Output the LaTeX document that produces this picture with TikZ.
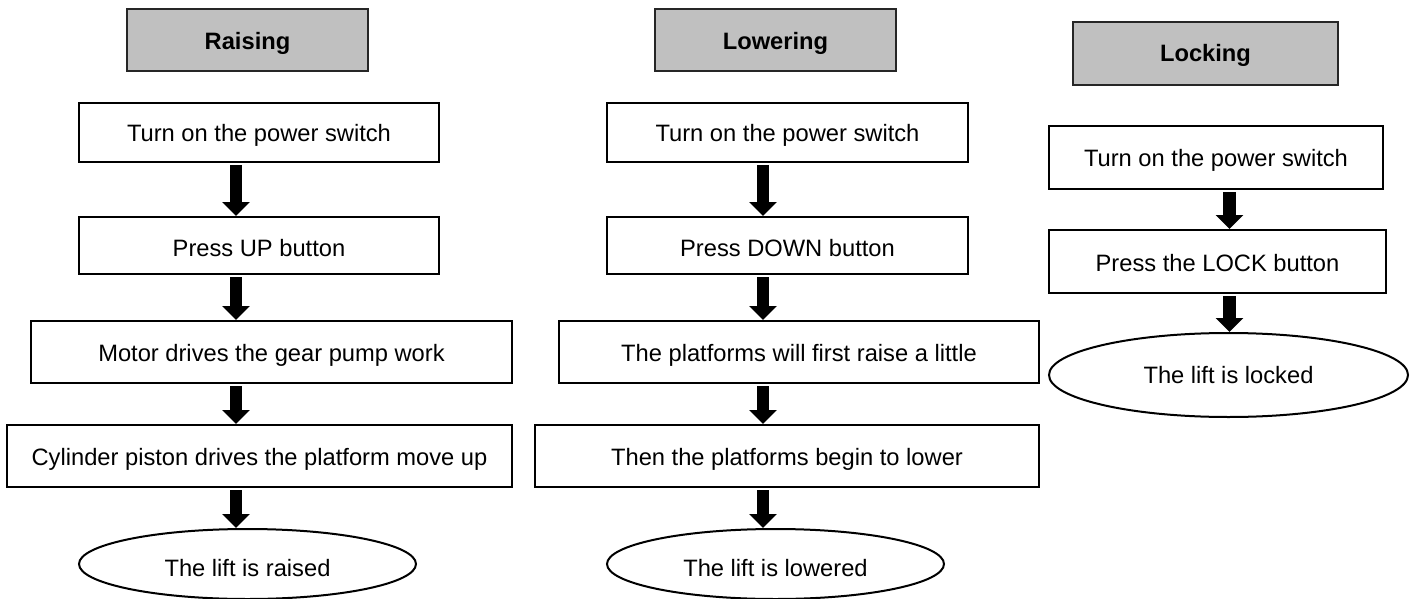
\documentclass[tikz,border=0pt]{standalone}
\usepackage{fontspec}
\setmainfont{Liberation Sans}
\usetikzlibrary{shapes.geometric,arrows.meta}
\begin{document}
\begin{tikzpicture}[x=1pt,y=-1pt,
  every node/.style={font=\fontsize{23.7}{28}\selectfont, inner sep=0pt, text height=19pt, text depth=0pt},
  hdr/.style={draw=black!85, line width=2pt, fill={rgb,255:red,192;green,192;blue,192}, rectangle, font=\fontsize{23.7}{28}\selectfont\bfseries},
  stepbox/.style={draw=black, line width=2pt, fill=white, rectangle},
  endell/.style={draw=black, line width=2pt, fill=white, ellipse},
  arr/.style={line width=12.5pt, -{Triangle[width=27pt,length=14pt]}}]
\useasboundingbox (0,0) rectangle (1418,599);
% Raising
\node[hdr, minimum width=241pt, minimum height=62pt] (rh) at (247.5,40) {Raising};
\node[stepbox, minimum width=360pt, minimum height=59pt] (r1) at (259,132.5) {Turn on the power switch};
\node[stepbox, minimum width=360pt, minimum height=57pt, text height=22pt] (r2) at (259,245.5) {Press UP button};
\node[stepbox, minimum width=481pt, minimum height=62pt] (r3) at (271.5,352) {Motor drives the gear pump work};
\node[stepbox, minimum width=505pt, minimum height=62pt] (r4) at (259.5,456) {Cylinder piston drives the platform move up};
\node[endell, minimum width=337pt, minimum height=70pt, text height=24pt] (r5) at (247.5,564) {The lift is raised};
\coordinate (ra) at (236,0);
\draw[arr] ([yshift=-2pt]r1.south -| ra) -- (r2.north -| ra);
\draw[arr] ([yshift=-2pt]r2.south -| ra) -- (r3.north -| ra);
\draw[arr] ([yshift=-2pt]r3.south -| ra) -- (r4.north -| ra);
\draw[arr] ([yshift=-2pt]r4.south -| ra) -- (r5.north -| ra);
% Lowering
\node[hdr, minimum width=241pt, minimum height=62pt] (lh) at (775.5,40) {Lowering};
\node[stepbox, minimum width=361pt, minimum height=59pt] (l1) at (787.5,132.5) {Turn on the power switch};
\node[stepbox, minimum width=361pt, minimum height=57pt, text height=22pt] (l2) at (787.5,245.5) {Press DOWN button};
\node[stepbox, minimum width=480pt, minimum height=62pt] (l3) at (799,352) {The platforms will first raise a little};
\node[stepbox, minimum width=504pt, minimum height=62pt] (l4) at (787,456) {Then the platforms begin to lower};
\node[endell, minimum width=337pt, minimum height=70pt, text height=24pt] (l5) at (775.5,564) {The lift is lowered};
\coordinate (la) at (763,0);
\draw[arr] ([yshift=-2pt]l1.south -| la) -- (l2.north -| la);
\draw[arr] ([yshift=-2pt]l2.south -| la) -- (l3.north -| la);
\draw[arr] ([yshift=-2pt]l3.south -| la) -- (l4.north -| la);
\draw[arr] ([yshift=-2pt]l4.south -| la) -- (l5.north -| la);
% Locking
\node[hdr, minimum width=265pt, minimum height=63pt, text height=17pt] (kh) at (1205.5,53.5) {Locking};
\node[stepbox, minimum width=334pt, minimum height=63pt, text height=17pt] (k1) at (1216,157.5) {Turn on the power switch};
\node[stepbox, minimum width=337pt, minimum height=63pt] (k2) at (1217.5,261.5) {Press the LOCK button};
\node[endell, minimum width=359pt, minimum height=84pt, text height=17pt] (k3) at (1228.5,375) {The lift is locked};
\coordinate (ka) at (1229.5,0);
\draw[arr] ([yshift=-2pt]k1.south -| ka) -- (k2.north -| ka);
\draw[arr] ([yshift=-2pt]k2.south -| ka) -- (k3.north -| ka);
\end{tikzpicture}
\end{document}
